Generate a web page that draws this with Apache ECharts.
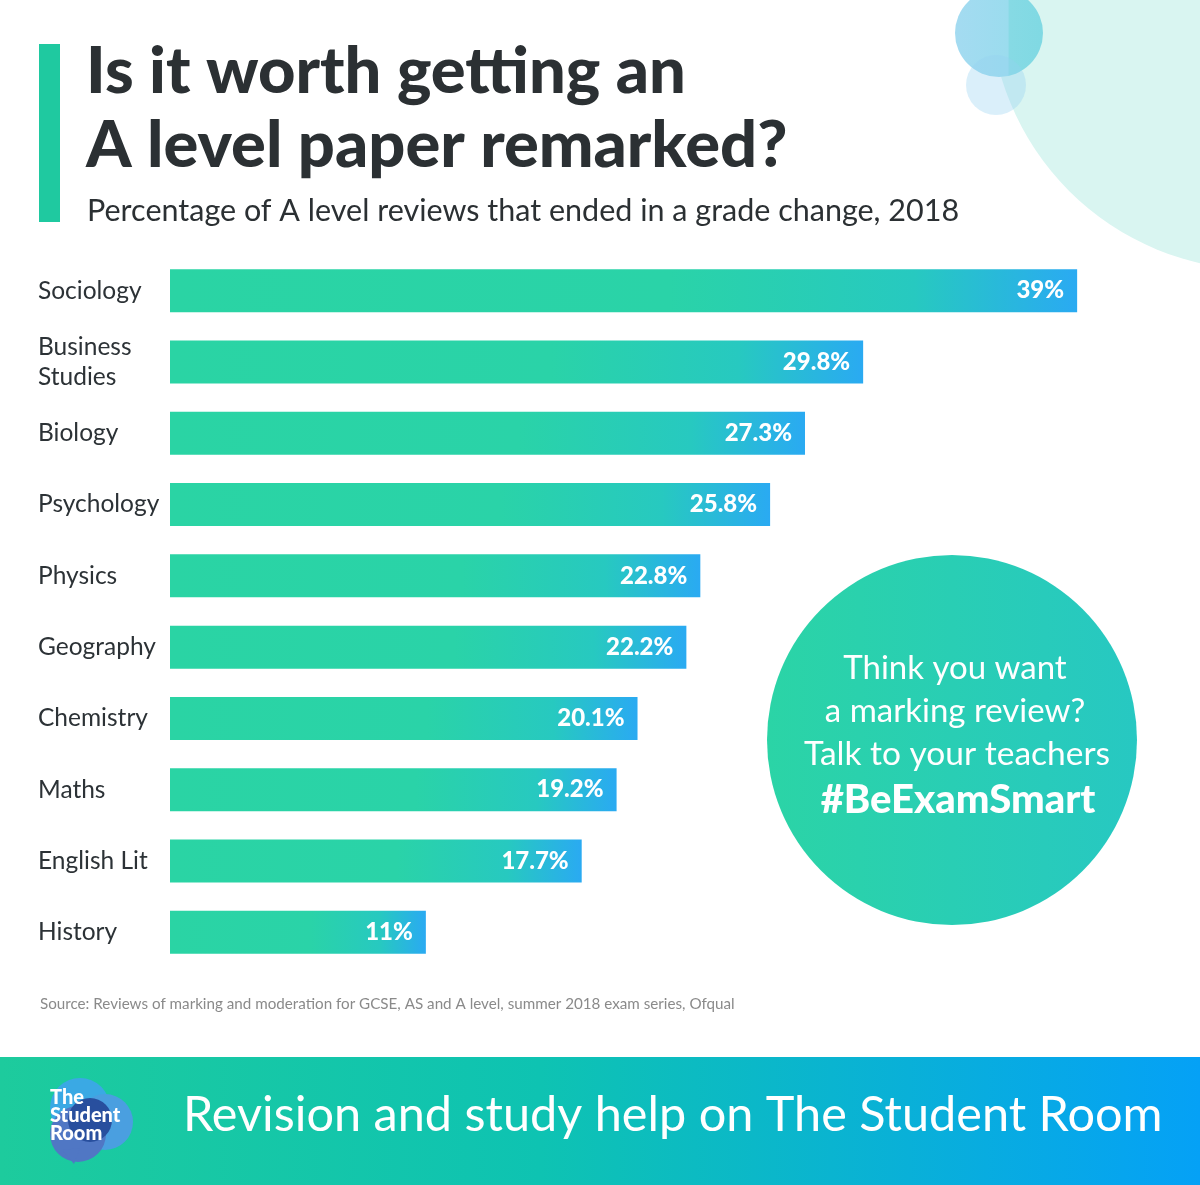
<!DOCTYPE html>
<html>
<head>
<meta charset="utf-8">
<script src="https://cdn.jsdelivr.net/npm/echarts@6/dist/echarts.min.js"></script>
<style>
html,body{margin:0;padding:0;background:#fff;}
#chart{width:1200px;height:1185px;}
</style>
</head>
<body>
<div id="chart"></div>
<script>
const categories = ['Sociology', 'Business\nStudies', 'Biology', 'Psychology', 'Physics', 'Geography', 'Chemistry', 'Maths', 'English Lit', 'History'];
const values = [39, 29.8, 27.3, 25.8, 22.8, 22.2, 20.1, 19.2, 17.7, 11];
const valueLabels = ['39%', '29.8%', '27.3%', '25.8%', '22.8%', '22.2%', '20.1%', '19.2%', '17.7%', '11%'];

const FONT = 'Lato, "Open Sans", sans-serif';
const chart = echarts.init(document.getElementById('chart'), null, {renderer: 'canvas'});

const barGradient = new echarts.graphic.LinearGradient(0, 0, 1, 0, [
  {offset: 0, color: '#2ad4a4'},
  {offset: 0.55, color: '#2ad3a8'},
  {offset: 0.82, color: '#27c9c0'},
  {offset: 1, color: '#2aaaf2'}
]);

chart.setOption({
  backgroundColor: '#ffffff',
  animation: false,
  grid: {left: 170, width: 930.4, top: 255, height: 713, containLabel: false},
  xAxis: {
    type: 'value', min: 0, max: 40, show: false
  },
  yAxis: {
    type: 'category', data: categories, inverse: true,
    axisLine: {show: false}, axisTick: {show: false}, splitLine: {show: false},
    axisLabel: {
      align: 'left', margin: 132, color: '#2c3236',
      fontFamily: FONT, fontSize: 24.5, lineHeight: 30
    }
  },
  series: [{
    type: 'bar',
    data: values,
    barWidth: 43,
    itemStyle: {color: barGradient},
    label: {
      show: true, position: 'insideRight', distance: 13,
      color: '#ffffff', fontFamily: FONT, fontWeight: 900, fontSize: 24,
      formatter: p => valueLabels[p.dataIndex]
    }
  }],
  graphic: [
    // top-right decorative circles
    {type: 'circle', z: -10, shape: {cx: 1260, cy: 0, r: 270}, style: {fill: '#d9f5f1'}},
    {type: 'circle', z: -9, shape: {cx: 999, cy: 33, r: 44},
      style: {fill: new echarts.graphic.LinearGradient(0, 0, 1, 0, [
        {offset: 0, color: '#a4dbf1'}, {offset: 0.6, color: '#9bdcee'}, {offset: 0.62, color: '#86dae4'}, {offset: 1, color: '#80d9e3'}])}},
    {type: 'circle', z: -8, shape: {cx: 996, cy: 85, r: 30}, style: {fill: 'rgba(150,210,240,0.35)'}},
    // left accent bar
    {type: 'rect', shape: {x: 39, y: 44, width: 21, height: 178}, style: {fill: '#1fc9a0'}},
    // title
    {type: 'text', x: 86, y: 72, style: {text: 'Is it worth getting an', fill: '#2b3033', font: '900 65px ' + FONT, textVerticalAlign: 'middle'}},
    {type: 'text', x: 86, y: 146, style: {text: 'A level paper remarked?', fill: '#2b3033', font: '900 65px ' + FONT, textVerticalAlign: 'middle'}},
    {type: 'text', x: 87, y: 211, style: {text: 'Percentage of A level reviews that ended in a grade change, 2018', fill: '#2b3033', font: '400 30.5px ' + FONT, textVerticalAlign: 'middle'}},
    // source
    {type: 'text', x: 40, y: 1004, style: {text: 'Source: Reviews of marking and moderation for GCSE, AS and A level, summer 2018 exam series, Ofqual', fill: '#8a8a8a', font: '400 15.2px ' + FONT, textVerticalAlign: 'middle'}},
    // call-out circle
    {type: 'circle', shape: {cx: 952, cy: 740, r: 185},
      style: {fill: new echarts.graphic.LinearGradient(0, 0, 1, 0, [{offset: 0, color: '#2bd4a6'}, {offset: 1, color: '#27c8c2'}])}},
    {type: 'text', x: 955, y: 668, style: {text: 'Think you want', fill: '#ffffff', font: '400 33px ' + FONT, textAlign: 'center', textVerticalAlign: 'middle'}},
    {type: 'text', x: 955, y: 711, style: {text: 'a marking review?', fill: '#ffffff', font: '400 33px ' + FONT, textAlign: 'center', textVerticalAlign: 'middle'}},
    {type: 'text', x: 957, y: 754, style: {text: 'Talk to your teachers', fill: '#ffffff', font: '400 33.5px ' + FONT, textAlign: 'center', textVerticalAlign: 'middle'}},
    {type: 'text', x: 958, y: 800, style: {text: '#BeExamSmart', fill: '#ffffff', font: '900 40px ' + FONT, textAlign: 'center', textVerticalAlign: 'middle'}},
    // bottom banner
    {type: 'rect', shape: {x: 0, y: 1057, width: 1200, height: 128},
      style: {fill: new echarts.graphic.LinearGradient(0, 0, 1, 0, [{offset: 0, color: '#1dcb9d'}, {offset: 0.45, color: '#0ec3b2'}, {offset: 1, color: '#05a1f6'}])}},
    // logo
    {type: 'circle', shape: {cx: 80, cy: 1108, r: 30}, style: {fill: '#3aa9e4'}},
    {type: 'circle', shape: {cx: 105, cy: 1122, r: 28}, style: {fill: '#4a9fe0'}},
    {type: 'circle', shape: {cx: 78, cy: 1134, r: 28}, style: {fill: '#5077c4'}},
    {type: 'polygon', shape: {points: [[62, 1150], [74, 1164], [80, 1148]]}, style: {fill: '#5077c4'}},
    {type: 'circle', shape: {cx: 90, cy: 1120, r: 22}, style: {fill: '#284f9e'}},
    {type: 'text', x: 50, y: 1098, style: {text: 'The', fill: '#ffffff', font: '900 20px ' + FONT, textVerticalAlign: 'middle'}},
    {type: 'text', x: 50, y: 1116, style: {text: 'Student', fill: '#ffffff', font: '900 20px ' + FONT, textVerticalAlign: 'middle'}},
    {type: 'text', x: 50, y: 1134, style: {text: 'Room', fill: '#ffffff', font: '900 20px ' + FONT, textVerticalAlign: 'middle'}},
    {type: 'text', x: 183, y: 1115, style: {text: 'Revision and study help on The Student Room', fill: '#ffffff', font: '400 48.6px ' + FONT, textVerticalAlign: 'middle'}}
  ]
});
</script>
</body>
</html>
